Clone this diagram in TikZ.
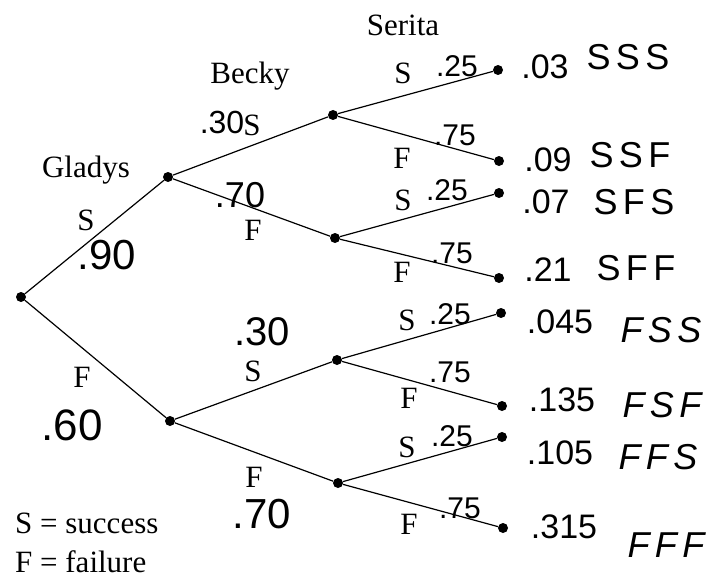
\documentclass[tikz,border=0pt]{standalone}
\usepackage{fontspec}
\setmainfont{Liberation Serif}
\newfontfamily\handfont{Liberation Sans}
\newfontfamily\handwide[LetterSpace=15]{Liberation Sans}
\begin{document}
\begin{tikzpicture}[x=1pt,y=-1pt,
  treedot/.style={circle, fill=black, inner sep=0pt, minimum size=10pt},
  branch/.style={line width=1.2pt},
  printed/.style={font=\fontsize{31}{34}\selectfont, inner sep=0pt},
  hand/.style={font=\handfont\fontsize{#1}{#1}\selectfont, inner sep=0pt},
  hand/.default=34,
  code/.style={font=\handwide\fontsize{36}{36}\selectfont, inner sep=0pt},
  fcode/.style={font=\handwide\itshape\fontsize{36}{36}\selectfont, inner sep=0pt}]
\useasboundingbox (0,0) rectangle (714,583);
% tree nodes
\node[treedot] (r) at (21,297) {};
\node[treedot] (gs) at (168,177) {};
\node[treedot] (gf) at (170,421) {};
\node[treedot] (ss) at (333,115) {};
\node[treedot] (sf) at (335,238) {};
\node[treedot] (fs) at (337,360) {};
\node[treedot] (ff) at (338,483) {};
\node[treedot] (sss) at (498,70) {};
\node[treedot] (ssf) at (499,161) {};
\node[treedot] (sfs) at (499,193) {};
\node[treedot] (sff) at (499,278) {};
\node[treedot] (fss) at (501,313) {};
\node[treedot] (fsf) at (502,406) {};
\node[treedot] (ffs) at (502,437) {};
\node[treedot] (fff) at (503,528) {};
% branches
\draw[branch] (r) -- (gs);
\draw[branch] (r) -- (gf);
\draw[branch] (gs) -- (ss);
\draw[branch] (gs) -- (sf);
\draw[branch] (gf) -- (fs);
\draw[branch] (gf) -- (ff);
\draw[branch] (ss) -- (sss);
\draw[branch] (ss) -- (ssf);
\draw[branch] (sf) -- (sfs);
\draw[branch] (sf) -- (sff);
\draw[branch] (fs) -- (fss);
\draw[branch] (fs) -- (fsf);
\draw[branch] (ff) -- (ffs);
\draw[branch] (ff) -- (fff);
% printed labels
\node[printed] (tg) at (86,170) {Gladys};
\node[printed] (tb) at (250,76) {Becky};
\node[printed] (ts) at (403,25) {Serita};
\node[printed] (lgs) at (86,220) {S};
\node[printed] (lgf) at (82,377) {F};
\node[printed] (lss) at (252,125) {S};
\node[printed] (lsf) at (253,230) {F};
\node[printed] (lfs) at (253,371) {S};
\node[printed] (lff) at (254,477) {F};
\node[printed] (l1) at (403,73) {S};
\node[printed] (l2) at (402,158) {F};
\node[printed] (l3) at (403,200) {S};
\node[printed] (l4) at (402,272) {F};
\node[printed] (l5) at (407,320) {S};
\node[printed] (l6) at (409,398) {F};
\node[printed] (l7) at (407,447) {S};
\node[printed] (l8) at (409,524) {F};
\node[printed, anchor=west] (leg1) at (15,523) {S = success};
\node[printed, anchor=west] (leg2) at (15,562) {F = failure};
% handwritten probabilities
\node[hand=42] (h90) at (107,255) {.90};
\node[hand=44] (h60) at (72,425) {.60};
\node[hand=32] (h30a) at (222,122) {.30};
\node[hand=36] (h70a) at (240,195) {.70};
\node[hand=40] (h30b) at (262,332) {.30};
\node[hand=42] (h70b) at (262,514) {.70};
\node[hand=30] (p1) at (457,66) {.25};
\node[hand=30] (p2) at (455,135) {.75};
\node[hand=30] (p3) at (447,190) {.25};
\node[hand=30] (p4) at (452,253) {.75};
\node[hand=30] (p5) at (450,314) {.25};
\node[hand=30] (p6) at (450,372) {.75};
\node[hand=30] (p7) at (452,436) {.25};
\node[hand=30] (p8) at (460,508) {.75};
\node[hand] (q1) at (545,67) {.03};
\node[hand] (q2) at (548,160) {.09};
\node[hand] (q3) at (546,202) {.07};
\node[hand] (q4) at (548,270) {.21};
\node[hand] (q5) at (560,322) {.045};
\node[hand] (q6) at (562,400) {.135};
\node[hand] (q7) at (560,453) {.105};
\node[hand] (q8) at (564,527) {.315};
\node[code] (c1) at (628,57) {SSS};
\node[code] (c2) at (630,155) {SSF};
\node[code] (c3) at (634,202) {SFS};
\node[code] (c4) at (636,268) {SFF};
\node[fcode] (c5) at (661,330) {FSS};
\node[fcode] (c6) at (662,405) {FSF};
\node[fcode] (c7) at (658,457) {FFS};
\node[fcode] (c8) at (666,545) {FFF};
\end{tikzpicture}
\end{document}
